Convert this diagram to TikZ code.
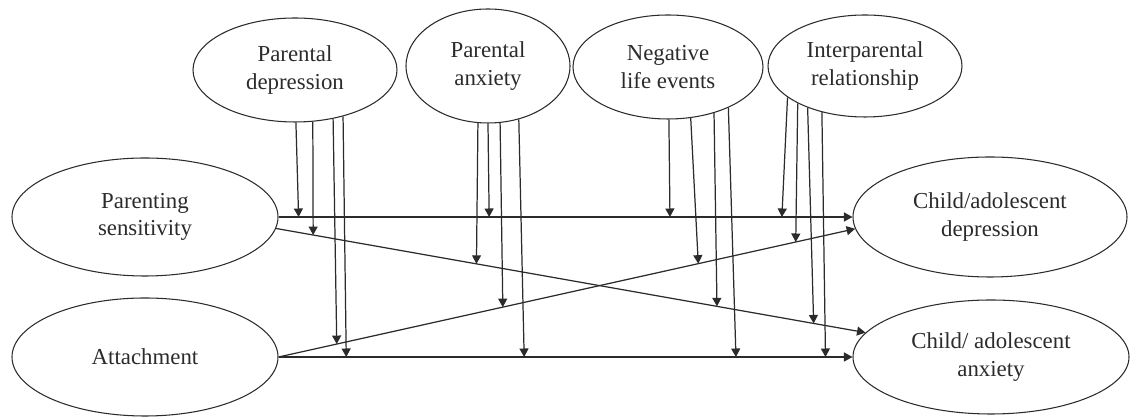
\documentclass[tikz,border=0pt]{standalone}
\usepackage{fontspec}
\setmainfont{Liberation Serif}
\usepackage{tikz}
\usetikzlibrary{shapes.geometric,arrows.meta}
\definecolor{Ink}{HTML}{2B2B2B}
\tikzset{
  factor/.style={draw=Ink,line width=0.6pt,ellipse,inner sep=0pt,align=center,
    text=Ink,font=\fontsize{13}{15.5}\selectfont},
  effect/.style={draw=Ink,line width=0.7pt,-{Triangle[length=0.17cm,width=0.18cm]}},
  moder/.style={draw=Ink,line width=0.7pt,-{Triangle[length=0.17cm,width=0.18cm]}}
}

\begin{document}
\begin{tikzpicture}
    \useasboundingbox (0,0) rectangle (22.68,8.38);

    % moderators
    \node[factor,minimum width=4.08cm,minimum height=2.08cm] (pd) at (5.90,6.98) {Parental\\depression};
    \node[factor,minimum width=3.28cm,minimum height=2.28cm] (pa) at (9.76,7.06) {Parental\\anxiety};
    \node[factor,minimum width=3.80cm,minimum height=2.08cm] (nle) at (13.36,7.04) {Negative\\life events};
    \node[factor,minimum width=3.88cm,minimum height=2.04cm] (ir) at (17.30,7.06) {Interparental\\relationship};

    % predictors and outcomes
    \node[factor,minimum width=5.32cm,minimum height=2.36cm] (ps) at (2.90,4.04) {Parenting\\sensitivity};
    \node[factor,minimum width=5.32cm,minimum height=2.36cm] (att) at (2.90,1.24) {Attachment};
    \node[factor,minimum width=5.48cm,minimum height=2.40cm] (cd) at (19.80,4.04) {Child/adolescent\\depression};
    \node[factor,minimum width=5.52cm,minimum height=2.28cm] (ca) at (19.82,1.24) {Child/ adolescent\\anxiety};

    % main paths
    \draw[effect] (ps.east) -- coordinate[pos=.035] (a1) coordinate[pos=.367] (a2)
        coordinate[pos=.682] (a3) coordinate[pos=.877] (a4) (cd.west);
    \draw[effect] (ps.-5) -- coordinate[pos=.063] (b1) coordinate[pos=.340] (b2)
        coordinate[pos=.748] (b3) coordinate[pos=.912] (b4) (ca.169);
    \draw[effect] (att.east) -- coordinate[pos=.101] (c1) coordinate[pos=.389] (c2)
        coordinate[pos=.728] (c3) coordinate[pos=.897] (c4) (cd.185);
    \draw[effect] (att.east) -- coordinate[pos=.118] (d1) coordinate[pos=.428] (d2)
        coordinate[pos=.797] (d3) coordinate[pos=.953] (d4) (ca.west);

    % moderating arrows
    \draw[moder] (pd.-89) -- (a1);
    \draw[moder] (pd.-71) -- (b1);
    \draw[moder] (pd.-52) -- (c1);
    \draw[moder] (pd.-44) -- (d1);

    \draw[moder] (pa.-100) -- (b2);
    \draw[moder] (pa.-90) -- (a2);
    \draw[moder] (pa.-78) -- (c2);
    \draw[moder] (pa.-60) -- (d2);

    \draw[moder] (nle.-89) -- (a3);
    \draw[moder] (nle.-66) -- (c3);
    \draw[moder] (nle.-45) -- (b3);
    \draw[moder] (nle.-34) -- (d3);

    \draw[moder] (ir.-158) -- (a4);
    \draw[moder] (ir.-151) -- (c4);
    \draw[moder] (ir.-144) -- (b4);
    \draw[moder] (ir.-133) -- (d4);
\end{tikzpicture}
\end{document}
